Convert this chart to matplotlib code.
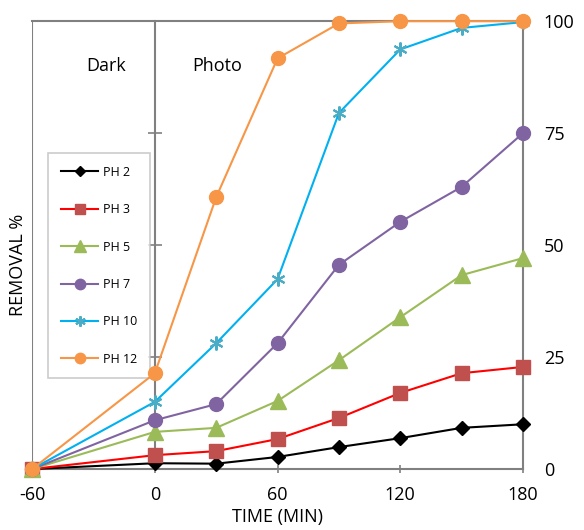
import numpy as np
import matplotlib.pyplot as plt

plt.rcParams['font.family'] = ['Open Sans', 'DejaVu Sans']
plt.rcParams['axes.unicode_minus'] = False

# --- DATA ---
time_min = [-60, 0, 30, 60, 90, 120, 150, 180]
ph2 = [0, 1.3, 1.2, 2.7, 4.9, 6.9, 9.2, 10.0]
ph3 = [0, 3.1, 4.0, 6.7, 11.4, 17.0, 21.4, 22.8]
ph5 = [0, 8.3, 9.2, 15.2, 24.3, 33.9, 43.3, 47.1]
ph7 = [0, 10.9, 14.5, 28.1, 45.6, 55.2, 63.0, 75.0]
ph10 = [0, 15.0, 28.1, 42.4, 79.5, 93.7, 98.5, 99.8]
ph12 = [0, 21.4, 60.7, 91.7, 99.5, 100, 100, 100]
labels = ['PH 2', 'PH 3', 'PH 5', 'PH 7', 'PH 10', 'PH 12']
x_ticks = [-60, 0, 60, 120, 180]
y_ticks = [0, 25, 50, 75, 100]

# --- STYLE ---
styles = [
    dict(color='black', marker='D', ms=7, mfc='black', mec='black'),
    dict(color='#FF0000', marker='s', ms=10, mfc='#C0504D', mec='#C0504D'),
    dict(color='#9BBB59', marker='^', ms=11, mfc='#9BBB59', mec='#9BBB59'),
    dict(color='#8064A2', marker='o', ms=10, mfc='#8064A2', mec='#8064A2'),
    dict(color='#00B0F0', marker=(6, 2, 0), ms=10, mfc='#4BACC6', mec='#4BACC6', mew=1.5),
    dict(color='#F79646', marker='o', ms=10, mfc='#F79646', mec='#F79646'),
]
series = [ph2, ph3, ph5, ph7, ph10, ph12]
gray = '#808080'

fig = plt.figure(figsize=(5.84, 5.30), dpi=100)
ax = fig.add_axes([0.055, 0.115, 0.8405, 0.845])

for y, lab, st in zip(series, labels, styles):
    ax.plot(time_min, y, lw=1.5, label=lab, clip_on=False, zorder=3, **st)

ax.set_xlim(-60, 180)
ax.set_ylim(0, 100)

# y axis crosses at x=0, labels on the right (Excel style)
ax.spines['left'].set_position(('data', 0))
ax.axvline(-60, color=gray, lw=1.5, zorder=1)
for s in ['left', 'right', 'top', 'bottom']:
    ax.spines[s].set_color(gray)
    ax.spines[s].set_linewidth(1.5)

ax.set_yticks(y_ticks)
ax.tick_params(axis='y', left=True, labelleft=False, right=False, labelright=True,
               direction='inout', length=10, color=gray, width=1.2, labelsize=13, pad=10)
ax.set_xticks(x_ticks)
ax.tick_params(axis='x', direction='inout', length=6, color=gray, width=1.2, labelsize=13, pad=9)

ax.set_xlabel('TIME (MIN)', fontsize=13, labelpad=3)
fig.text(0.03, 0.5, 'REMOVAL %', rotation=90, fontsize=13, va='center', ha='center')

ax.text(-24, 90, 'Dark', fontsize=13, ha='center', va='center')
ax.text(30.5, 90, 'Photo', fontsize=13, ha='center', va='center')

leg = ax.legend(loc='upper left', bbox_to_anchor=(0.033, 0.705), fontsize=9,
                frameon=True, fancybox=False, edgecolor='#BFBFBF', labelspacing=1.95,
                handlelength=3.0, borderpad=1.0, handletextpad=0.4, borderaxespad=0,
                markerscale=0.75)
leg.get_frame().set_linewidth(1.2)
leg.set_zorder(2)

fig.savefig('out.png', dpi=100)
